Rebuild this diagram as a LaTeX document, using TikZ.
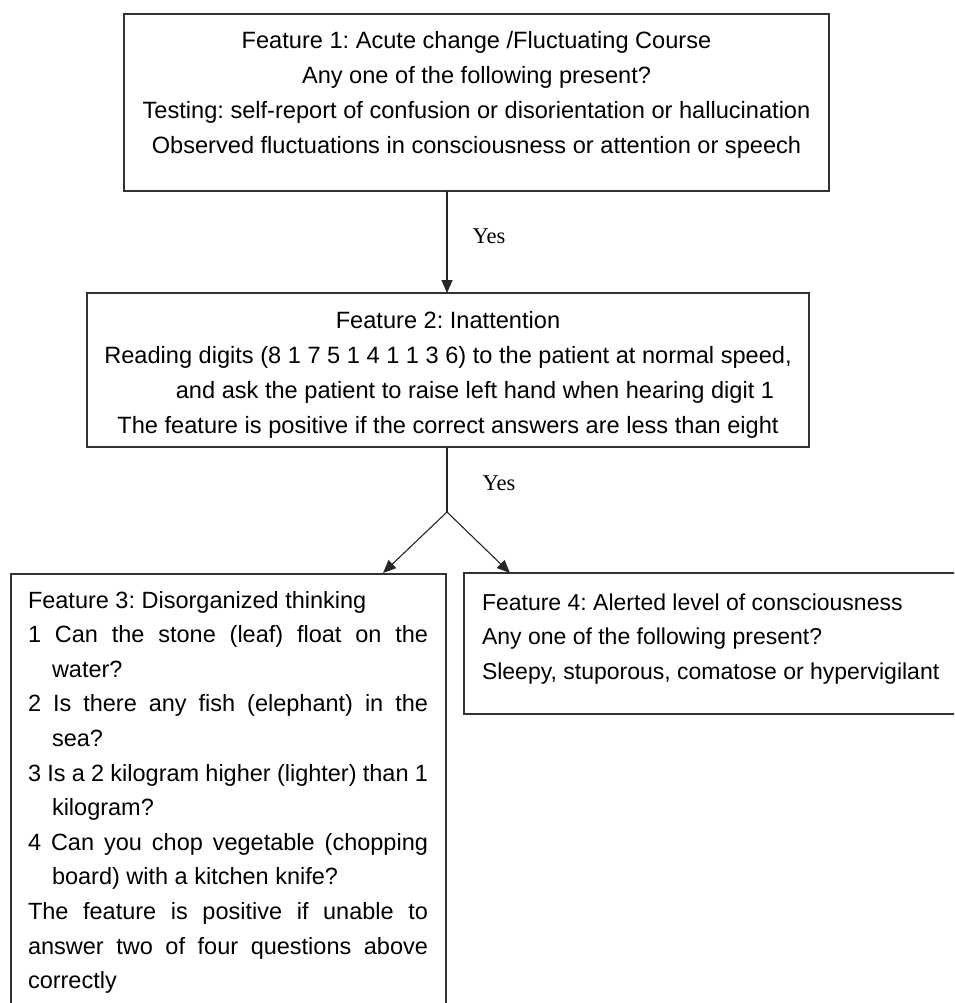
\documentclass[tikz,border=0pt]{standalone}
\usepackage{fontspec}
\setmainfont{Liberation Sans}
\newfontfamily\yesfont{Liberation Serif}
\usetikzlibrary{arrows.meta}
\frenchspacing
\newcommand{\ctxt}[2]{\begin{minipage}[t]{#1}\fontsize{23.6}{35}\selectfont\centering #2\end{minipage}}
\newcommand{\ltxt}[3]{\begin{minipage}[t]{#1}\fontsize{#2}{34.6}\selectfont\raggedright #3\end{minipage}}
\newcommand{\jl}[1]{\makebox[400pt][s]{#1}}
\begin{document}
\begin{tikzpicture}[x=1pt,y=-1pt,
  boxline/.style={draw=black!80, line width=1.3pt, inner sep=0pt, outer sep=0pt},
  txt/.style={inner sep=0pt, outer sep=0pt},
  plain/.style={draw=black!85, line width=1.1pt},
  conn/.style={plain, -{Triangle[length=13pt,width=11pt]}},
  yeslab/.style={font=\yesfont\fontsize{22.5}{26}\selectfont, inner sep=0pt}]
\useasboundingbox (0,0) rectangle (954,1003);
\clip (0,0) rectangle (954,1003);
% boxes
\node[boxline, minimum width=705, minimum height=177, anchor=north west] (f1) at (124,14) {};
\node[boxline, minimum width=722, minimum height=154, anchor=north west] (f2) at (87,293) {};
\node[boxline, minimum width=435, minimum height=450, anchor=north west] (f3) at (11,574) {};
\node[boxline, minimum width=500, minimum height=141, anchor=north west] (f4) at (464,573) {};
% texts
\node[txt, anchor=base] (f1t) at (476.5,49) {\ctxt{760pt}{Feature 1: Acute change /Fluctuating Course\\
Any one of the following present?\\
Testing: self-report of confusion or disorientation or hallucination\\
Observed fluctuations in consciousness or attention or speech}};
\node[txt, anchor=base] (f2t) at (448,328) {\ctxt{760pt}{Feature 2: Inattention\\
Reading digits (8 1 7 5 1 4 1 1 3 6) to the patient at normal speed,\\
\hspace*{54pt}and ask the patient to raise left hand when hearing digit 1\\
The feature is positive if the correct answers are less than eight}};
\node[txt, anchor=base west] (f3t) at (28,608) {\ltxt{400pt}{23.5}{Feature 3: Disorganized thinking\\
\jl{1 Can the stone (leaf) float on the}\\
\hspace*{24pt}water?\\
\jl{2 Is there any fish (elephant) in the}\\
\hspace*{24pt}sea?\\
\jl{3 Is a 2 kilogram higher (lighter) than 1}\\
\hspace*{24pt}kilogram?\\
\jl{4 Can you chop vegetable (chopping}\\
\hspace*{24pt}board) with a kitchen knife?\\
\jl{The feature is positive if unable to}\\
\jl{answer two of four questions above}\\
correctly}};
\node[txt, anchor=base west] (f4t) at (482,610) {\ltxt{470pt}{23}{Feature 4: Alerted level of consciousness\\
Any one of the following present?\\
Sleepy, stuporous, comatose or hypervigilant}};
% connectors
\coordinate (split) at (447,512);
\coordinate (a3) at (383,573);
\coordinate (a4) at (510,573);
\draw[conn] (f1.south -| split) -- (f2.north -| split);
\draw[plain] (f2.south -| split) -- (split);
\draw[conn] (split) -- (a3);
\draw[conn] (split) -- (a4);
\node[yeslab] (y1) at (489,236) {Yes};
\node[yeslab] (y2) at (499,483) {Yes};
\end{tikzpicture}
\end{document}
